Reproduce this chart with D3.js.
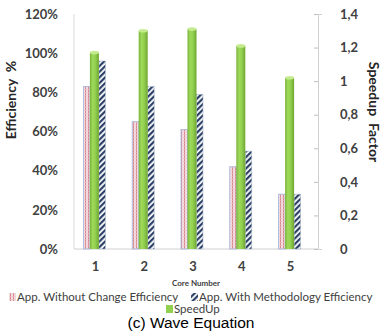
<!DOCTYPE html>
<html>
<head>
<meta charset="utf-8">
<script src="https://cdn.jsdelivr.net/npm/d3@7"></script>
<style>
  html, body { margin: 0; padding: 0; background: #fff; }
  svg { display: block; }
</style>
</head>
<body>
<svg id="chart" width="382" height="331"></svg>
<script>
// Core counts on the x axis
const cores = ["1", "2", "3", "4", "5"];
// Efficiency of the unchanged application (%)
const effWithout = [83, 65, 61, 42, 28];
// Efficiency of the application after the methodology (%)
const effWith = [96, 83, 79, 50, 28];
// Speedup factor (right axis)
const speedup = [1.17, 1.30, 1.31, 1.21, 1.02];
// Axis tick values
const leftTicks = [0, 20, 40, 60, 80, 100, 120];
const rightTicks = [0, 0.2, 0.4, 0.6, 0.8, 1, 1.2, 1.4];
// Legend entries
const legendRow1 = ["App. Without Change Efficiency", "App. With Methodology Efficiency"];
const legendRow2 = ["SpeedUp"];

const svg = d3.select("#chart");
const plot = { left: 74, right: 318, top: 14, bottom: 249 };

const x = d3.scaleBand().domain(cores).range([plot.left, plot.right]);
const yL = d3.scaleLinear().domain([0, 120]).range([plot.bottom, plot.top]);
const yR = d3.scaleLinear().domain([0, 1.4]).range([plot.bottom, plot.top]);

const tickColor = "#404040";
const tickFont = "Lato, 'Open Sans', sans-serif";

// Fill patterns
const defs = svg.append("defs");
const pRed = defs.append("pattern").attr("id", "pRed")
  .attr("patternUnits", "userSpaceOnUse").attr("width", 3).attr("height", 3);
pRed.append("rect").attr("width", 3).attr("height", 3).attr("fill", "#f4dde0");
pRed.append("rect").attr("x", 1).attr("width", 1).attr("height", 3).attr("fill", "#d98890");
pRed.append("rect").attr("y", 2).attr("width", 3).attr("height", 1).attr("fill", "#e9c4cc").attr("opacity", 0.6);

const pNavy = defs.append("pattern").attr("id", "pNavy")
  .attr("patternUnits", "userSpaceOnUse").attr("width", 4).attr("height", 4)
  .attr("patternTransform", "rotate(45)");
pNavy.append("rect").attr("width", 4).attr("height", 4).attr("fill", "#ffffff");
pNavy.append("rect").attr("width", 2.2).attr("height", 4).attr("fill", "#2a3f66");

const gGreen = defs.append("linearGradient").attr("id", "gGreen")
  .attr("x1", "0%").attr("x2", "100%").attr("y1", "0%").attr("y2", "0%");
gGreen.append("stop").attr("offset", "0%").attr("stop-color", "#78b33a");
gGreen.append("stop").attr("offset", "30%").attr("stop-color", "#9ed95a");
gGreen.append("stop").attr("offset", "60%").attr("stop-color", "#92d050");
gGreen.append("stop").attr("offset", "100%").attr("stop-color", "#6fa632");

// Axis lines
svg.append("line").attr("x1", plot.left).attr("x2", plot.left)
  .attr("y1", plot.top).attr("y2", plot.bottom).attr("stroke", "#d9d9d9");
svg.append("line").attr("x1", plot.left).attr("x2", plot.right)
  .attr("y1", plot.bottom).attr("y2", plot.bottom).attr("stroke", "#d0d0d0");

// Left axis labels
const leftAxis = svg.append("g").attr("transform", `translate(${plot.left},0)`)
  .call(d3.axisLeft(yL).tickValues(leftTicks).tickSize(0).tickPadding(16).tickFormat(d => d + "%"));
leftAxis.select(".domain").remove();
leftAxis.selectAll("text").attr("font-family", tickFont).attr("font-weight", "bold")
  .attr("font-size", 13).attr("fill", tickColor);

// Right axis
const rightAxis = svg.append("g").attr("transform", `translate(${plot.right},0)`)
  .call(d3.axisRight(yR).tickValues(rightTicks).tickSize(4).tickPadding(18)
    .tickFormat(d => String(d).replace(".", ",")));
rightAxis.select(".domain").attr("stroke", "#d0d0d0");
rightAxis.selectAll(".tick line").attr("stroke", "#bfbfbf").attr("x1", -4).attr("x2", 0);
rightAxis.selectAll("text").attr("font-family", tickFont).attr("font-weight", "bold")
  .attr("font-size", 13).attr("fill", tickColor);

// Bottom axis labels
const bottomAxis = svg.append("g").attr("transform", `translate(0,${plot.bottom})`)
  .call(d3.axisBottom(x).tickSize(0).tickPadding(13));
bottomAxis.select(".domain").remove();
bottomAxis.selectAll("text").attr("font-family", tickFont).attr("font-weight", "bold")
  .attr("font-size", 13).attr("fill", tickColor).attr("dx", -3);

// Bars
const cx = d => x(d) + x.bandwidth() / 2 - 3;
const rows = cores.map((c, i) => ({ c, a: effWithout[i], b: effWith[i], s: speedup[i] }));

svg.append("g").selectAll("rect").data(rows).join("rect")
  .attr("x", d => cx(d.c) - 12).attr("width", 6.5)
  .attr("y", d => yL(d.a)).attr("height", d => yL(0) - yL(d.a))
  .attr("fill", "url(#pRed)").attr("stroke", "#9fb6dc").attr("stroke-width", 0.8);

svg.append("g").selectAll("rect").data(rows).join("rect")
  .attr("x", d => cx(d.c) + 3.5).attr("width", 6.5)
  .attr("y", d => yL(d.b)).attr("height", d => yL(0) - yL(d.b))
  .attr("fill", "url(#pNavy)").attr("stroke", "#aab8cc").attr("stroke-width", 0.6);

const green = svg.append("g").selectAll("g").data(rows).join("g");
green.append("rect")
  .attr("x", d => cx(d.c) - 5.5).attr("width", 9)
  .attr("y", d => yR(d.s)).attr("height", d => yR(0) - yR(d.s))
  .attr("fill", "url(#gGreen)");
green.append("ellipse")
  .attr("cx", d => cx(d.c) - 1).attr("cy", d => yR(d.s))
  .attr("rx", 4.5).attr("ry", 1.8).attr("fill", "#c4ec8e");

// Axis titles
svg.append("text").attr("transform", "translate(16,100) rotate(-90)")
  .attr("text-anchor", "middle").attr("font-family", tickFont).attr("font-weight", "bold")
  .attr("font-size", 14).attr("fill", "#262626").attr("xml:space", "preserve")
  .text("Efficiency  %");
svg.append("text").attr("transform", "translate(369,112) rotate(90)")
  .attr("text-anchor", "middle").attr("font-family", tickFont).attr("font-weight", "bold")
  .attr("font-size", 14).attr("fill", "#262626").attr("xml:space", "preserve")
  .text("Speedup  Factor");
svg.append("text").attr("x", 196).attr("y", 286).attr("text-anchor", "middle")
  .attr("font-family", tickFont).attr("font-weight", "bold").attr("font-size", 8)
  .attr("fill", "#404040").text("Core Number");

// Legend
const legFont = 11.5;
const leg1 = svg.append("g");
leg1.append("rect").attr("x", 9).attr("y", 293).attr("width", 7).attr("height", 8).attr("fill", "url(#pRed)");
leg1.append("text").attr("x", 17).attr("y", 301).attr("font-family", tickFont)
  .attr("font-size", legFont).attr("fill", "#404040").text(legendRow1[0]);
leg1.append("rect").attr("x", 191).attr("y", 293).attr("width", 7).attr("height", 8).attr("fill", "url(#pNavy)");
leg1.append("text").attr("x", 199).attr("y", 301).attr("font-family", tickFont)
  .attr("font-size", legFont).attr("fill", "#404040").text(legendRow1[1]);
svg.append("rect").attr("x", 166).attr("y", 305).attr("width", 7).attr("height", 8).attr("fill", "#92d050");
svg.append("text").attr("x", 174).attr("y", 313).attr("font-family", tickFont)
  .attr("font-size", legFont).attr("fill", "#404040").text(legendRow2[0]);

// Caption
svg.append("text").attr("x", 191).attr("y", 328).attr("text-anchor", "middle")
  .attr("font-family", "'Liberation Sans', Arial, sans-serif").attr("font-size", 15.5)
  .attr("fill", "#000").text("(c) Wave Equation");
</script>
</body>
</html>
